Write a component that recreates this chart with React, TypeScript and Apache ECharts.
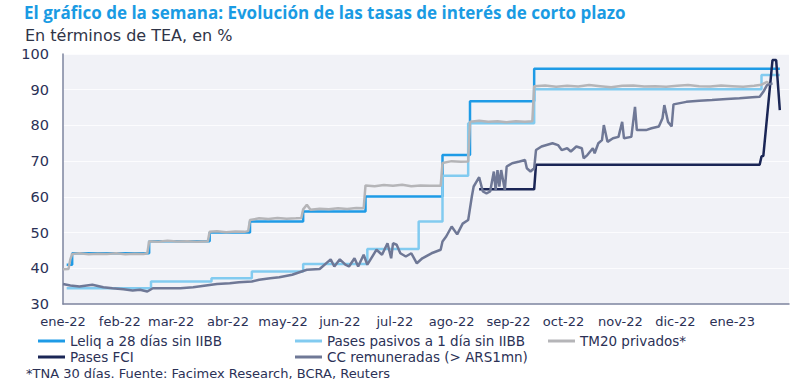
import React, { useEffect, useRef } from "react";
import * as echarts from "echarts";

// Days counted from 2022-01-01
const monthStartDays = [0, 31, 59, 90, 120, 151, 181, 212, 243, 273, 304, 334, 365];
const monthLabels = ["ene-22", "feb-22", "mar-22", "abr-22", "may-22", "jun-22", "jul-22", "ago-22", "sep-22", "oct-22", "nov-22", "dic-22", "ene-23"];

const leliqDays = [2, 5, 47, 80, 102, 131, 165, 207, 222, 257, 391];
const leliqValues = [41, 44.2, 47.6, 50, 53.1, 55.9, 60.1, 71.7, 86.8, 95.9, 95.9];

const pasivosDays = [2, 48, 81, 103, 131, 166, 194, 207, 221, 257, 381, 391];
const pasivosValues = [34.4, 36.3, 37.2, 39.1, 41.2, 45.4, 53.1, 65.9, 80.6, 90.1, 94.1, 94.1];

const tm20Days = [0, 3, 4, 5, 9, 14, 19, 24, 29, 34, 39, 44, 46, 47, 52, 57, 62, 68, 73, 79, 80, 84, 89, 94, 99, 101, 102, 107, 112, 117, 122, 127, 130, 131, 133, 135, 140, 145, 150, 155, 160, 164, 165, 170, 175, 180, 185, 190, 195, 200, 206, 207, 212, 217, 221, 222, 227, 232, 237, 242, 247, 252, 256, 257, 263, 269, 275, 281, 287, 293, 299, 305, 311, 317, 323, 329, 335, 341, 347, 353, 359, 365, 371, 377, 381, 384, 386, 388];
const tm20Values = [39.7, 39.8, 42.5, 44, 44.2, 43.9, 44.1, 44, 44.2, 43.9, 44.1, 44, 44.2, 47.6, 47.4, 47.7, 47.5, 47.6, 47.4, 47.6, 50.2, 50.4, 50.1, 50.3, 50.2, 50.4, 53.5, 54, 53.8, 54.1, 53.9, 54, 54.1, 56.5, 57.8, 56.4, 56.7, 56.5, 56.8, 56.6, 56.9, 56.8, 63.2, 63, 63.3, 63.1, 63.4, 63, 63.2, 63.1, 63.1, 69.5, 70, 69.8, 69.9, 81, 81.3, 81, 81.2, 80.9, 81.2, 81, 81.2, 91, 91.2, 90.8, 91.1, 90.9, 91.3, 91, 90.7, 91.1, 91.2, 90.9, 91, 90.8, 91.1, 91.3, 91, 90.9, 91.2, 91, 90.8, 91.1, 91.4, 92.2, 91.2];

const fciDays = [227, 257, 258, 380, 381, 382, 387, 389, 391];
const fciValues = [62.1, 62.1, 69, 69, 71.3, 71.5, 98.3, 98.3, 84.3];

const ccDays = [0, 4, 9, 16, 22, 27, 33, 38, 42, 46, 49, 57, 64, 71, 78, 84, 91, 96, 103, 107, 113, 118, 125, 133, 140, 146, 148, 151, 154, 156, 159, 161, 164, 166, 171, 174, 177, 179, 180, 182, 184, 187, 190, 193, 196, 201, 206, 207, 209, 212, 215, 218, 221, 223, 224, 227, 229, 231, 233, 235, 236, 237, 238, 239, 241, 242, 245, 249, 252, 253, 255, 257, 258, 261, 267, 270, 272, 275, 277, 280, 283, 284, 286, 289, 290, 292, 294, 295, 297, 300, 303, 305, 306, 310, 312, 313, 318, 321, 325, 327, 328, 330, 332, 333, 340, 347, 354, 362, 369, 376, 380, 382, 384, 387];
const ccValues = [35.6, 35.2, 34.9, 35.4, 34.7, 34.4, 34.1, 33.8, 34, 33.5, 34.4, 34.4, 34.4, 34.7, 35.2, 35.6, 35.8, 36.1, 36.3, 36.8, 37.2, 37.5, 38.2, 39.6, 39.8, 42.5, 40.5, 42.5, 41, 40.5, 42.8, 40.5, 43.8, 41, 45.2, 43.8, 47, 42.8, 47, 46.6, 44.2, 43.3, 44.2, 41.4, 42.8, 44.2, 45.2, 47.5, 48.9, 51.7, 49.5, 52.5, 53.5, 60.1, 62.9, 65.5, 61.5, 61, 61.5, 67.1, 61.9, 67.5, 62.9, 67.5, 61.9, 68.5, 69.4, 69.9, 70.3, 68, 67.1, 68, 73.1, 74.1, 75, 74.5, 73.1, 73.6, 72.7, 74.1, 73.6, 70.8, 71.7, 73.6, 72.2, 75, 75.9, 80.1, 75.4, 76.4, 76.8, 81, 76.4, 76.8, 85.2, 78.7, 78.7, 79.2, 79.7, 82, 85.7, 81, 79.7, 85.9, 86.6, 86.9, 87.1, 87.4, 87.6, 87.9, 88, 89.4, 91.3, 91.8];

const yTicks = [30, 40, 50, 60, 70, 80, 90, 100];

const seriesNames = [
  "Leliq a 28 días sin IIBB",
  "Pases pasivos a 1 día sin IIBB",
  "TM20 privados*",
  "Pases FCI",
  "CC remuneradas (> ARS1mn)",
];
const seriesColors = ["#1e9be6", "#82cbf0", "#b5b5b8", "#1b2656", "#6f7896"];

const zip = (xs: number[], ys: number[]) => xs.map((x, i) => [x, ys[i]]);

const TITLE_FONT = "'Open Sans', sans-serif";
const FONT = "'DejaVu Sans', sans-serif";
const TEXT = "#2b3156";

export default function App() {
  const ref = useRef<HTMLDivElement>(null);
  useEffect(() => {
    if (!ref.current) return;
    const chart = echarts.init(ref.current, null, { renderer: "svg" });
    const legendText = { color: TEXT, fontFamily: FONT, fontSize: 13.5, lineHeight: 16 };
    const legendBase = {
      orient: "vertical" as const,
      top: 333,
      itemGap: 0,
      itemWidth: 27,
      itemHeight: 3,
      icon: "rect",
      textStyle: legendText,
      padding: 0,
    };
    const line = (idx: number, data: number[][], step?: string) => ({
      name: seriesNames[idx],
      type: "line",
      data,
      step: step || false,
      showSymbol: false,
      symbol: "none",
      lineStyle: { color: seriesColors[idx], width: 2.5 },
      itemStyle: { color: seriesColors[idx] },
      z: 2 + idx,
    });
    chart.setOption({
      animation: false,
      title: [
        {
          text: "El gráfico de la semana: Evolución de las tasas de interés de corto plazo",
          left: 24,
          top: 4,
          padding: 0,
          textStyle: { color: "#1a9be3", fontFamily: TITLE_FONT, fontSize: 17, fontWeight: "bold" },
        },
        {
          text: "En términos de TEA, en %",
          left: 25,
          top: 27,
          padding: 0,
          textStyle: { color: "#2f3447", fontFamily: FONT, fontSize: 16, fontWeight: "normal" },
        },
        {
          text: "*TNA 30 días. Fuente: Facimex Research, BCRA, Reuters",
          left: 26,
          top: 366,
          padding: 0,
          textStyle: { color: TEXT, fontFamily: FONT, fontSize: 13, fontWeight: "normal", lineHeight: 15 },
        },
      ],
      legend: [
        { ...legendBase, left: 38, data: [seriesNames[0], seriesNames[3]] },
        { ...legendBase, left: 295, data: [seriesNames[1], seriesNames[4]] },
        { ...legendBase, left: 548, data: [seriesNames[2]] },
      ],
      grid: {
        left: 63,
        right: 11,
        top: 54,
        bottom: 84,
        show: true,
        backgroundColor: "#f1f2f7",
        borderWidth: 0,
      },
      xAxis: {
        type: "value",
        min: 0,
        max: 396,
        axisLine: { show: true, lineStyle: { color: "#7d849f", width: 1.5 } },
        axisTick: { show: false },
        splitLine: { show: false },
        axisLabel: {
          customValues: monthStartDays,
          formatter: (v: number) => monthLabels[monthStartDays.indexOf(v)] ?? "",
          color: TEXT,
          fontFamily: FONT,
          fontSize: 13,
          margin: 11,
        },
      },
      yAxis: {
        type: "value",
        min: 30,
        max: 100,
        interval: 10,
        axisLine: { show: true, lineStyle: { color: "#7d849f", width: 1.5 } },
        axisTick: { show: false },
        splitLine: { show: true, lineStyle: { color: "#fcfcfe", width: 1 } },
        axisLabel: {
          customValues: yTicks,
          color: TEXT,
          fontFamily: FONT,
          fontSize: 14.5,
          margin: 14,
        },
      },
      series: [
        line(0, zip(leliqDays, leliqValues), "end"),
        line(1, zip(pasivosDays, pasivosValues), "end"),
        line(2, zip(tm20Days, tm20Values)),
        line(4, zip(ccDays, ccValues)),
        line(3, zip(fciDays, fciValues)),
      ],
    });
    return () => chart.dispose();
  }, []);
  return <div ref={ref} style={{ width: 800, height: 388, position: "absolute", left: 0, top: 0 }} />;
}
